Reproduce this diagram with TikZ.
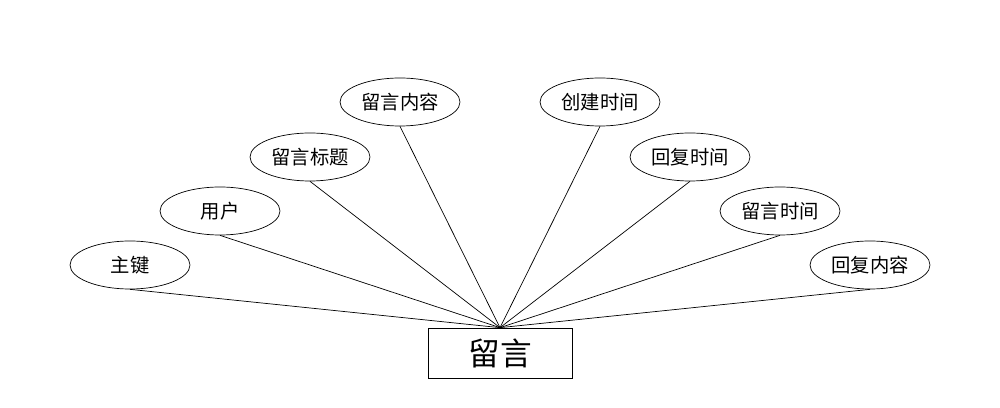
\documentclass[tikz,border=0pt]{standalone}
\usepackage{fontspec}
\newfontfamily\cjk{Noto Sans CJK SC}
\usetikzlibrary{shapes.geometric}
\begin{document}
\begin{tikzpicture}[x=0.02cm,y=-0.02cm,
    attr/.style={draw,ellipse,minimum width=2.4cm,minimum height=0.96cm,inner sep=0pt,font=\cjk\fontsize{11}{13}\selectfont},
    entity/.style={draw,rectangle,minimum width=2.88cm,minimum height=1cm,font=\cjk\fontsize{18}{20}\selectfont}]
        % Bounding box
        \useasboundingbox (0,0) rectangle (1000,408);

        % Entity
        \node[entity] (msg) at (500,353) {留言};

        % Attributes
        \node[attr] (key) at (130,265) {主键};
        \node[attr] (user) at (220,211) {用户};
        \node[attr] (title) at (310,157) {留言标题};
        \node[attr] (content) at (400,102) {留言内容};
        \node[attr] (created) at (600,102) {创建时间};
        \node[attr] (replytime) at (690,157) {回复时间};
        \node[attr] (msgtime) at (780,211) {留言时间};
        \node[attr] (reply) at (870,265) {回复内容};

        % Connectors
        \foreach \a in {key,user,title,content,created,replytime,msgtime,reply}
            \draw (\a.south) -- (msg.north);
\end{tikzpicture}
\end{document}
